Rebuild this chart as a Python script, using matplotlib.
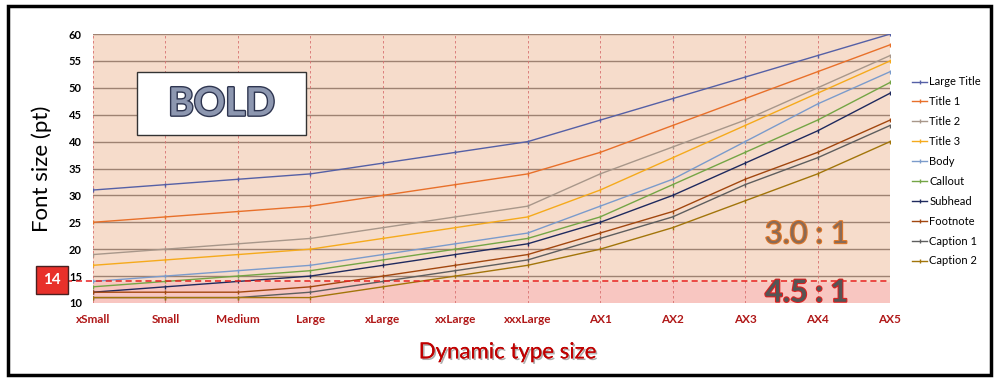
import numpy as np
import matplotlib
matplotlib.use("Agg")
import matplotlib.pyplot as plt
import matplotlib.patheffects as pe
from matplotlib.patches import Rectangle

plt.rcParams['font.family'] = ['Lato', 'DejaVu Sans']

# datos
sizes = ['xSmall', 'Small', 'Medium', 'Large', 'xLarge', 'xxLarge', 'xxxLarge',
         'AX1', 'AX2', 'AX3', 'AX4', 'AX5']
large_title = [31, 32, 33, 34, 36, 38, 40, 44, 48, 52, 56, 60]
title1 = [25, 26, 27, 28, 30, 32, 34, 38, 43, 48, 53, 58]
title2 = [19, 20, 21, 22, 24, 26, 28, 34, 39, 44, 50, 56]
title3 = [17, 18, 19, 20, 22, 24, 26, 31, 37, 43, 49, 55]
body = [14, 15, 16, 17, 19, 21, 23, 28, 33, 40, 47, 53]
callout = [13, 14, 15, 16, 18, 20, 22, 26, 32, 38, 44, 51]
subhead = [12, 13, 14, 15, 17, 19, 21, 25, 30, 36, 42, 49]
footnote = [12, 12, 12, 13, 15, 17, 19, 23, 27, 33, 38, 44]
caption1 = [11, 11, 11, 12, 14, 16, 18, 22, 26, 32, 37, 43]
caption2 = [11, 11, 11, 11, 13, 15, 17, 20, 24, 29, 34, 40]

series_names = ['Large Title', 'Title 1', 'Title 2', 'Title 3', 'Body', 'Callout',
                'Subhead', 'Footnote', 'Caption 1', 'Caption 2']
series = [large_title, title1, title2, title3, body, callout,
          subhead, footnote, caption1, caption2]
colores = ['#5560A6', '#E8702A', '#A8978A', '#F5AA1C', '#7B9BCB', '#74A545',
           '#1F2A5E', '#A2470F', '#5E5E5E', '#A2750A']
umbral = 14

fig = plt.figure(figsize=(10, 3.83), dpi=100)
ax = fig.add_axes([0.093, 0.209, 0.797, 0.702])

x = np.arange(len(sizes))
ax.axhspan(10, umbral, color='#F8C6C1', zorder=0)
ax.axhspan(umbral, 60, color='#F6DCCB', zorder=0)

for yv in range(15, 61, 5):
    ax.axhline(yv, color='#9E8272', lw=1, zorder=1)
for xv in x:
    ax.axvline(xv, color='#D87070', lw=0.6, ls=(0, (3, 3)), zorder=1)

for nombre, datos, c in zip(series_names, series, colores):
    ax.plot(x, datos, color=c, lw=1.0, marker='|', ms=3, mew=1, label=nombre, zorder=3)

# linea de 14 pt
ax.plot([-0.034, 1], [umbral, umbral], color='#E82020', lw=1.1, ls=(0, (4, 2.5)),
        transform=ax.get_yaxis_transform(), clip_on=False, zorder=4)
fig.text(0.052, 1 - 280 / 383, '14', color='white', fontsize=11, fontweight='bold',
         ha='center', va='center',
         bbox=dict(boxstyle='square,pad=0.45', fc='#E8302A', ec='#4A2020', lw=1))

ax.set_xlim(0, 11)
ax.set_ylim(10, 60)
ax.set_yticks(range(10, 61, 5))
ax.set_xticks(x)
ax.set_xticklabels(sizes, color='#B01818', fontweight='bold', fontsize=8.5)
ax.tick_params(axis='x', length=0, pad=8)
ax.tick_params(axis='y', length=0, pad=8, labelsize=8)
for t in ax.get_yticklabels():
    t.set_fontweight('bold')
for s in ax.spines.values():
    s.set_visible(False)

ax.set_ylabel('Font size (pt)', fontsize=16, labelpad=12)
fig.text(0.508, 0.08, 'Dynamic type size', color='#C00000', fontsize=16,
         ha='center', va='center',
         path_effects=[pe.withSimplePatchShadow(offset=(1.2, -1.2), shadow_rgbFace='#999999', alpha=0.8),
                       pe.Normal()])

# cuadro BOLD
ax.add_patch(Rectangle((0.61, 41.2), 2.33, 11.7, fc='white', ec='#333333', lw=1, zorder=5))
ax.text(1.775, 47, 'BOLD', fontsize=28, fontweight='bold', color='#8D97B0',
        ha='center', va='center', zorder=6,
        path_effects=[pe.withStroke(linewidth=2, foreground='#2E3550')])

ax.text(9.85, 22.8, '3.0 : 1', fontsize=22, color='#8A6A56', ha='center', va='center',
        zorder=6, path_effects=[pe.withStroke(linewidth=1.5, foreground='#E27828')])
ax.text(9.85, 11.9, '4.5 : 1', fontsize=22, color='#555555', ha='center', va='center',
        fontweight='bold', zorder=6,
        path_effects=[pe.withStroke(linewidth=1.5, foreground='#E02020')])

fig.legend(loc='upper left', bbox_to_anchor=(0.908, 1 - 72 / 383), frameon=False,
           fontsize=8, handlelength=1.3, handletextpad=0.2, labelspacing=0.8,
           borderaxespad=0)

fig.patches.append(Rectangle((0.008, 0.022), 0.983, 0.962, transform=fig.transFigure,
                             fill=False, ec='black', lw=2.5))

fig.savefig('out.png', dpi=100)
